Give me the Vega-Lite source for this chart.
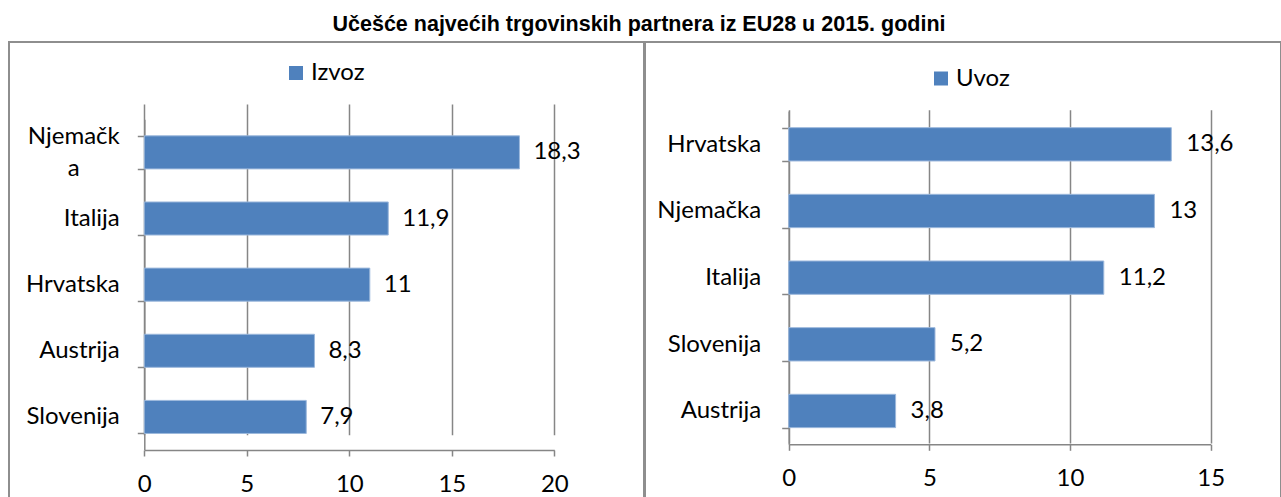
{
  "$schema": "https://vega.github.io/schema/vega-lite/v6.json",
  "padding": {"left": 8, "top": 13, "right": 0, "bottom": 0},
  "background": "white",
  "title": {
    "text": "Učešće najvećih trgovinskih partnera iz EU28 u 2015. godini",
    "font": "Liberation Sans",
    "fontSize": 21.5,
    "fontWeight": "bold",
    "color": "#000000",
    "anchor": "middle",
    "offset": -6,
    "dx": -6
  },
  "data": {
    "values": [
      {"panel": "Izvoz", "country": "Njemačka", "value": 18.3},
      {"panel": "Izvoz", "country": "Italija", "value": 11.9},
      {"panel": "Izvoz", "country": "Hrvatska", "value": 11},
      {"panel": "Izvoz", "country": "Austrija", "value": 8.3},
      {"panel": "Izvoz", "country": "Slovenija", "value": 7.9},
      {"panel": "Uvoz", "country": "Hrvatska", "value": 13.6},
      {"panel": "Uvoz", "country": "Njemačka", "value": 13},
      {"panel": "Uvoz", "country": "Italija", "value": 11.2},
      {"panel": "Uvoz", "country": "Slovenija", "value": 5.2},
      {"panel": "Uvoz", "country": "Austrija", "value": 3.8}
    ]
  },
  "spacing": -4,
  "resolve": {"scale": {"color": "independent"}},
  "hconcat": [
    {
      "width": 635,
      "height": 470,
      "transform": [{"filter": "datum.panel === 'Izvoz'"}],
      "encoding": {
        "y": {
          "field": "country",
          "type": "nominal",
          "sort": "-x",
          "scale": {"range": [77.3, 408], "paddingInner": 0.5, "paddingOuter": 0.25},
          "axis": {
            "title": null,
            "offset": -135.3,
            "tickBand": "extent",
            "labelExpr": "datum.label == 'Njemačka' ? ['Njemačk', 'a'] : datum.label",
            "labelLineHeight": 32,
            "labelOffset": {"condition": {"test": "datum.value == 'Njemačka'", "value": -16}, "value": 0},
            "labelAlign": {"condition": {"test": "datum.value == 'Njemačka'", "value": "center"}, "value": "right"},
            "labelPadding": {"condition": {"test": "datum.value == 'Njemačka'", "value": 64}, "value": 18}
          }
        },
        "x": {
          "field": "value",
          "type": "quantitative",
          "scale": {"domain": [0, 20], "range": [135.3, 545.3], "nice": false},
          "axis": {"title": null, "values": [0, 5, 10, 15, 20], "offset": -62, "grid": true}
        }
      },
      "layer": [
        {
          "mark": {"type": "bar", "stroke": "#9cb8dc", "strokeWidth": 1},
          "encoding": {
            "color": {
              "field": "panel",
              "type": "nominal",
              "scale": {"range": ["#4F81BD"]},
              "legend": {
                "orient": "none",
                "legendX": 275,
                "legendY": 19,
                "title": null,
                "symbolType": "square",
                "symbolSize": 196,
                "symbolStrokeWidth": 0,
                "labelFont": "Lato",
                "labelFontSize": 24,
                "labelColor": "#000000",
                "labelOffset": 3,
                "padding": 0
              }
            }
          }
        },
        {
          "mark": {"type": "text", "align": "left", "baseline": "middle", "dx": 14},
          "encoding": {"text": {"field": "value", "type": "quantitative", "format": ".1~f"}}
        }
      ]
    },
    {
      "width": 636,
      "height": 470,
      "transform": [{"filter": "datum.panel === 'Uvoz'"}],
      "encoding": {
        "y": {
          "field": "country",
          "type": "nominal",
          "sort": "-x",
          "scale": {"range": [69, 402.3], "paddingInner": 0.5, "paddingOuter": 0.25},
          "axis": {"title": null, "offset": -143.7, "tickBand": "extent", "labelPadding": 21}
        },
        "x": {
          "field": "value",
          "type": "quantitative",
          "scale": {"domain": [0, 15], "range": [143.7, 565.7], "nice": false},
          "axis": {"title": null, "values": [0, 5, 10, 15], "offset": -67.7, "grid": true}
        }
      },
      "layer": [
        {
          "mark": {"type": "bar", "stroke": "#9cb8dc", "strokeWidth": 1},
          "encoding": {
            "color": {
              "field": "panel",
              "type": "nominal",
              "scale": {"range": ["#4F81BD"]},
              "legend": {
                "orient": "none",
                "legendX": 284,
                "legendY": 24.5,
                "title": null,
                "symbolType": "square",
                "symbolSize": 196,
                "symbolStrokeWidth": 0,
                "labelFont": "Lato",
                "labelFontSize": 24,
                "labelColor": "#000000",
                "labelOffset": 3,
                "padding": 0
              }
            }
          }
        },
        {
          "mark": {"type": "text", "align": "left", "baseline": "middle", "dx": 15},
          "encoding": {"text": {"field": "value", "type": "quantitative", "format": ".1~f"}}
        }
      ]
    }
  ],
  "config": {
    "locale": {"number": {"decimal": ",", "thousands": ".", "grouping": [3], "currency": ["", " €"]}},
    "view": {"stroke": "#8e8e8e", "strokeWidth": 2},
    "axis": {
      "labelFont": "Lato",
      "labelFontSize": 24,
      "labelColor": "#000000",
      "labelOverlap": false,
      "labelFlush": false,
      "domainColor": "#868686",
      "domainWidth": 1.5,
      "tickColor": "#868686",
      "tickWidth": 1.5,
      "gridColor": "#868686",
      "gridWidth": 1.5
    },
    "axisX": {"labelPadding": 16, "tickSize": 6},
    "axisY": {"tickSize": 7, "grid": false},
    "text": {"font": "Lato", "fontSize": 24, "color": "#000000"}
  }
}
